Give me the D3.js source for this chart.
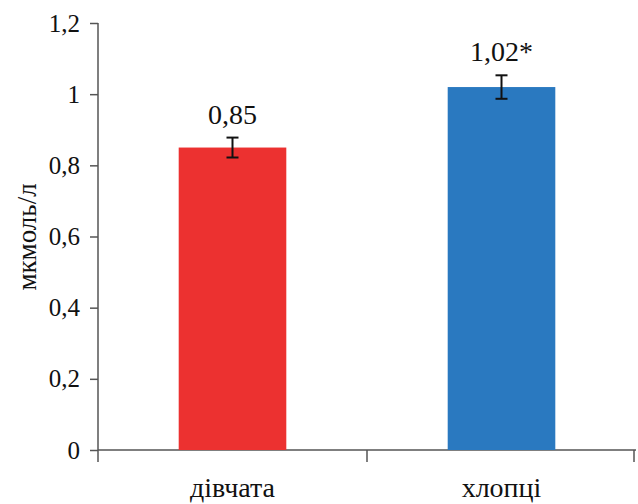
<!DOCTYPE html>
<html>
<head>
<meta charset="utf-8">
<script src="https://cdn.jsdelivr.net/npm/d3@7"></script>
<style>
  body { margin: 0; background: #fff; }
</style>
</head>
<body>
<div class="chart"></div>
<script>
// data
const categories = ["дівчата", "хлопці"]
const values = [0.85, 1.02]
const errors = [0.028, 0.033]
const valueLabels = ["0,85", "1,02*"]
const yTicks = [0, 0.2, 0.4, 0.6, 0.8, 1, 1.2]
const barColours = ["#ec3130", "#2a79c0"]

const width = 638, height = 504
const margin = {top: 23, right: 2, bottom: 54, left: 98}
const serif = "'Liberation Serif', 'Times New Roman', 'DejaVu Serif', serif"

const svg = d3.select(".chart").append("svg").attr("width", width).attr("height", height)

const x = d3.scaleBand().domain(categories).range([margin.left, width - margin.right]).padding(0)
const y = d3.scaleLinear().domain([0, 1.2]).range([height - margin.bottom, margin.top])
const barW = x.bandwidth() * 0.4

// y axis
const yAxis = svg.append("g").attr("transform", `translate(${margin.left},0)`)
  .call(d3.axisLeft(y).tickValues(yTicks).tickSize(8).tickPadding(10)
    .tickFormat(d => String(d).replace(".", ",")))
yAxis.attr("font-family", null)
yAxis.select(".domain").attr("d", `M0,${y(1.2)}V${y(0) + 12}`).attr("stroke", "#555").attr("stroke-width", 1.5)
yAxis.selectAll(".tick line").attr("stroke", "#555").attr("stroke-width", 1.5)
yAxis.selectAll(".tick text").style("font-size", "25px").style("font-family", serif).attr("fill", "#111")

// x axis with ticks between categories
const xAxis = svg.append("g").attr("transform", `translate(0,${y(0)})`)
xAxis.append("line").attr("x1", margin.left).attr("x2", width - margin.right)
  .attr("stroke", "#555").attr("stroke-width", 1.5)
const bounds = categories.map(c => x(c) + x.bandwidth()).slice(0, -1).concat([width - margin.right - 2])
xAxis.selectAll(".sep").data(bounds).enter().append("line").attr("class", "sep")
  .attr("x1", d => d).attr("x2", d => d).attr("y1", 0).attr("y2", 12)
  .attr("stroke", "#555").attr("stroke-width", 1.5)
xAxis.selectAll(".cat").data(categories).enter().append("text").attr("class", "cat")
  .attr("x", d => x(d) + x.bandwidth() / 2).attr("y", 47)
  .attr("text-anchor", "middle").style("font-size", "28px").style("font-family", serif)
  .attr("fill", "#111").text(d => d)

// bars
const bars = categories.map((c, i) => ({c, v: values[i], e: errors[i], label: valueLabels[i], col: barColours[i]}))
svg.selectAll(".bar").data(bars).enter().append("rect").attr("class", "bar")
  .attr("x", d => x(d.c) + (x.bandwidth() - barW) / 2).attr("width", barW)
  .attr("y", d => y(d.v)).attr("height", d => y(0) - y(d.v)).attr("fill", d => d.col)

// error bars
const err = svg.selectAll(".err").data(bars).enter().append("g").attr("class", "err")
  .attr("stroke", "#111").attr("stroke-width", 2)
err.append("line").attr("x1", d => x(d.c) + x.bandwidth() / 2).attr("x2", d => x(d.c) + x.bandwidth() / 2)
  .attr("y1", d => y(d.v + d.e)).attr("y2", d => y(d.v - d.e))
err.append("line").attr("x1", d => x(d.c) + x.bandwidth() / 2 - 6).attr("x2", d => x(d.c) + x.bandwidth() / 2 + 6)
  .attr("y1", d => y(d.v + d.e)).attr("y2", d => y(d.v + d.e))
err.append("line").attr("x1", d => x(d.c) + x.bandwidth() / 2 - 6).attr("x2", d => x(d.c) + x.bandwidth() / 2 + 6)
  .attr("y1", d => y(d.v - d.e)).attr("y2", d => y(d.v - d.e))

// value labels
svg.selectAll(".val").data(bars).enter().append("text").attr("class", "val")
  .attr("x", d => x(d.c) + x.bandwidth() / 2).attr("y", d => y(d.v + d.e) - 14)
  .attr("text-anchor", "middle").style("font-size", "28px").style("font-family", serif)
  .attr("fill", "#111").text(d => d.label)

// y label
svg.append("text").attr("transform", `translate(36,${237}) rotate(-90)`)
  .attr("text-anchor", "middle").style("font-size", "27px").style("font-family", serif)
  .attr("fill", "#111").text("мкмоль/л")
</script>
</body>
</html>
